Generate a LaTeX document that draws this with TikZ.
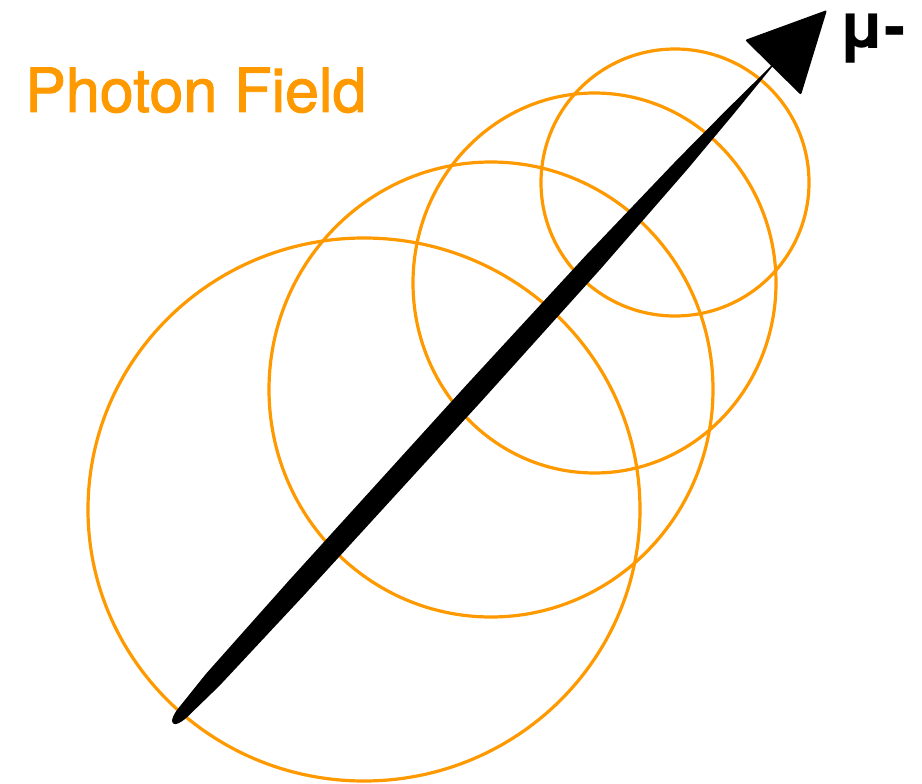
\documentclass[tikz,border=0pt]{standalone}
\usepackage{fontspec}
\setmainfont{TeX Gyre Heros}
\newfontfamily\fieldfont[FakeBold=1.6]{TeX Gyre Heros}
\usepackage{tikz}
\usetikzlibrary{calc}
\definecolor{fieldOrange}{RGB}{255,153,0}
\tikzset{
  field/.style={draw=fieldOrange, line width=3.2pt},
  label/.style={inner sep=0pt, anchor=base west}
}
% point on the track at fraction #1, offset #2 sideways
\newcommand{\trk}[2]{($($(tail)!#1!(neck)$)!#2!90:(neck)$)}

\begin{document}
\begin{tikzpicture}[x=1pt, y=-1pt]
  \useasboundingbox (0,0) rectangle (922,784);
  % photon field circles
  \draw[field] (364,509.5) ellipse [x radius=276, y radius=271.5];
  \draw[field] (491,389.5) ellipse [x radius=222, y radius=227.5];
  \draw[field] (594.5,283) ellipse [x radius=181.5, y radius=190];
  \draw[field] (675,182.5) ellipse [x radius=134, y radius=133.5];
  % muon track
  \coordinate (tail) at (177,719);
  \coordinate (neck) at (772,66);
  \fill[black] \trk{0.015}{6.5pt} -- \trk{0.06}{9pt} -- \trk{0.2}{10.5pt}
    -- \trk{0.5}{11pt} -- \trk{0.7}{10pt} -- \trk{0.85}{7pt} -- \trk{0.93}{4pt} -- \trk{1}{1pt}
    -- \trk{1}{-1pt} -- \trk{0.93}{-4pt} -- \trk{0.85}{-7pt} -- \trk{0.7}{-10pt} -- \trk{0.5}{-11pt}
    -- \trk{0.2}{-10.5pt} -- \trk{0.06}{-9pt} -- \trk{0.015}{-6.5pt}
    .. controls \trk{-0.014}{-6pt} and \trk{-0.014}{6pt} .. cycle;
  \fill[black, rounded corners=2pt] (745,40) -- (827,10) -- (801,95) -- cycle;
  % labels
  \node[label, text=fieldOrange, font=\fieldfont\fontsize{61}{66}\selectfont] (field) at (25,112) {Photon Field};
  \node[label, font=\fontsize{64}{70}\selectfont\bfseries] (muon) at (838,49) {μ-};
\end{tikzpicture}
\end{document}
